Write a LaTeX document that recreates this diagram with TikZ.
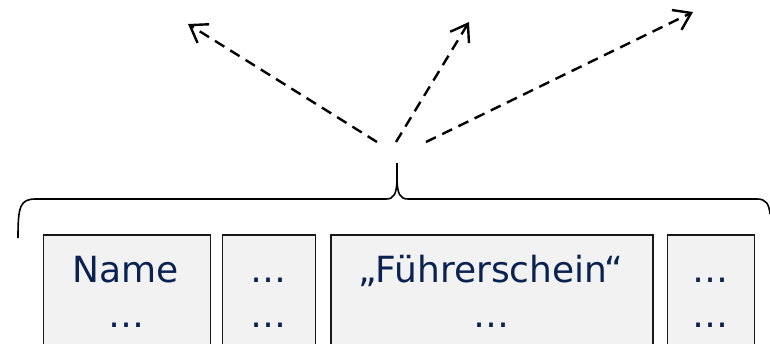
\documentclass[tikz,border=0pt]{standalone}
\usepackage{fontspec}
\setmainfont{DejaVu Sans}
\usetikzlibrary{arrows.meta}
\definecolor{txt}{RGB}{10,34,82}
\definecolor{boxfill}{RGB}{242,242,242}
\definecolor{boxline}{RGB}{25,25,25}
\begin{document}
\begin{tikzpicture}[x=1pt,y=-1pt,
  fieldbox/.style={draw=boxline,line width=1.5pt,fill=boxfill,inner sep=0pt,anchor=north west},
  fieldtext/.style={text=txt,font=\fontsize{36}{42}\selectfont,inner sep=0pt,anchor=base},
  ptr/.style={draw=black,line width=2.4pt,dash pattern=on 11pt off 7pt,-{Straight Barb[length=16pt,width=22pt,line width=2.4pt]}}]
\useasboundingbox (0,0) rectangle (770,343);
% boxes
\node[fieldbox,minimum width=167pt,minimum height=120pt] (b1) at (42.5,234) {};
\node[fieldbox,minimum width=93pt,minimum height=120pt] (b2) at (221.5,234) {};
\node[fieldbox,minimum width=322pt,minimum height=120pt] (b3) at (330,234) {};
\node[fieldbox,minimum width=87pt,minimum height=120pt] (b4) at (666.5,234) {};
% texts
\node[fieldtext] (t1a) at (126,282) {Name};
\node[fieldtext] (t1b) at (126,327) {…};
\node[fieldtext] (t2a) at (268,282) {…};
\node[fieldtext] (t2b) at (268,327) {…};
\node[fieldtext] (t3a) at (491,282) {„Führerschein“};
\node[fieldtext] (t3b) at (491,327) {…};
\node[fieldtext] (t4a) at (710,282) {…};
\node[fieldtext] (t4b) at (710,327) {…};
% brace
\draw[line width=1.6pt] (18,238) .. controls (18,206) and (20,199) .. (36,199) -- (386,199)
  .. controls (394,199) and (396.5,194) .. (397,180) -- (397,163)
  (397,180) .. controls (397.5,194) and (400,199) .. (408,199) -- (757,199)
  .. controls (766,199) and (769,204) .. (770,214);
% arrows
\coordinate (s1) at (377,142);
\coordinate (s2) at (396,142);
\coordinate (s3) at (426,142);
\coordinate (e1) at (188,24);
\coordinate (e2) at (469,22);
\coordinate (e3) at (693,12);
\draw[ptr] (s1) -- (e1);
\draw[ptr] (s2) -- (e2);
\draw[ptr] (s3) -- (e3);
\end{tikzpicture}
\end{document}
